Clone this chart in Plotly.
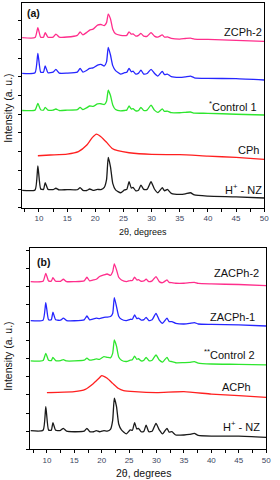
import plotly.graph_objects as go

# shared 2-theta grid for the crystalline patterns
X = [7, 9.3, 9.8, 10.3, 10.8, 11.1, 11.6, 12.5, 13.0, 13.6, 15.0, 16.8, 17.3, 17.8, 18.5,
     19.0, 19.6, 20.4, 21.0, 21.6, 22.0, 22.3, 22.7, 23.1, 23.6, 24.5, 25.2, 25.6, 26.0, 26.4,
     26.7, 27.2, 27.7, 28.1, 28.6, 29.2, 29.9, 30.5, 31.1, 31.9, 32.3, 32.8, 33.5, 35.0, 36.0,
     36.9, 37.6, 40.0, 45.0, 50.0]

# ---- panel (a) ----
A_HNZ = [0.93, 0.95, 2.23, 1.00, 0.98, 1.34, 0.98, 0.97, 1.04, 0.95, 0.97, 0.96, 1.07, 0.93, 0.92,
         1.00, 0.93, 0.98, 0.97, 1.09, 1.50, 2.69, 2.19, 1.30, 0.95, 0.80, 0.95, 0.98, 1.39, 1.05,
         1.09, 0.90, 0.95, 1.21, 0.98, 0.98, 1.39, 1.00, 0.80, 1.07, 0.90, 0.98, 0.77, 0.71, 0.74,
         0.80, 0.68, 0.62, 0.58, 0.52]
A_C1 = [5.20, 5.22, 5.58, 5.24, 5.22, 5.37, 5.22, 5.22, 5.28, 5.20, 5.22, 5.25, 5.37, 5.25, 5.35,
        5.44, 5.42, 5.55, 5.56, 5.52, 5.70, 6.29, 6.00, 5.50, 5.25, 5.18, 5.20, 5.22, 5.44, 5.28,
        5.30, 5.18, 5.20, 5.37, 5.20, 5.22, 5.49, 5.22, 5.10, 5.28, 5.15, 5.17, 5.08, 5.08, 5.10,
        5.12, 5.06, 5.05, 5.00, 4.96]
A_ZCPH1 = [7.19, 7.22, 8.26, 7.25, 7.25, 7.58, 7.22, 7.25, 7.40, 7.20, 7.20, 7.25, 7.45, 7.25, 7.35,
           7.45, 7.48, 7.63, 7.67, 7.58, 7.80, 8.58, 8.17, 7.60, 7.33, 7.15, 7.22, 7.25, 7.45, 7.27,
           7.30, 7.15, 7.20, 7.36, 7.15, 7.18, 7.40, 7.19, 7.04, 7.29, 7.12, 7.15, 7.01, 6.97, 7.00,
           7.04, 6.95, 6.92, 6.90, 6.83]
A_ZCPH2 = [9.10, 9.10, 9.63, 9.12, 9.12, 9.36, 9.12, 9.12, 9.29, 9.13, 9.13, 9.22, 9.40, 9.25, 9.38,
           9.50, 9.55, 9.77, 9.80, 9.74, 9.90, 10.36, 10.10, 9.55, 9.30, 9.22, 9.20, 9.22, 9.41, 9.28,
           9.30, 9.18, 9.22, 9.32, 9.18, 9.17, 9.36, 9.18, 9.12, 9.24, 9.12, 9.14, 9.06, 9.02, 9.05,
           9.07, 9.02, 9.00, 8.95, 8.90]
A_CPH_X = [9.8, 12, 15, 17, 18.5, 19.5, 20.2, 21, 22, 23, 24, 26, 30, 35, 40, 45, 50]
A_CPH = [2.78, 2.82, 2.87, 3.00, 3.35, 3.76, 3.94, 3.80, 3.50, 3.17, 3.05, 2.94, 2.85, 2.84, 2.76, 2.69, 2.59]

# ---- panel (b) ----
B_HNZ = [1.03, 1.05, 2.36, 1.07, 1.05, 1.47, 1.05, 1.05, 1.16, 1.00, 0.97, 1.00, 1.16, 0.98, 0.97,
         1.03, 0.97, 1.03, 1.00, 1.10, 1.60, 2.82, 2.36, 1.40, 1.07, 0.85, 1.07, 1.05, 1.47, 1.12,
         1.16, 0.97, 1.00, 1.34, 0.97, 1.00, 1.43, 1.07, 0.85, 1.16, 0.95, 0.97, 0.79, 0.79, 0.82,
         0.88, 0.77, 0.73, 0.73, 0.66]
B_C2 = [4.88, 4.90, 5.30, 4.92, 4.90, 5.08, 4.90, 4.90, 4.95, 4.88, 4.88, 4.92, 5.03, 4.92, 4.95,
        4.99, 4.97, 5.12, 5.08, 5.05, 5.30, 6.04, 5.70, 5.10, 4.92, 4.85, 4.92, 4.95, 5.15, 4.97,
        5.00, 4.88, 4.92, 5.08, 4.90, 4.92, 5.21, 4.93, 4.82, 5.08, 4.88, 4.84, 4.78, 4.79, 4.80,
        4.84, 4.76, 4.71, 4.69, 4.66]
B_ZACPH1 = [7.11, 7.13, 8.10, 7.15, 7.15, 7.57, 7.15, 7.13, 7.24, 7.11, 7.10, 7.15, 7.36, 7.15, 7.20,
            7.24, 7.22, 7.29, 7.30, 7.33, 7.50, 8.38, 7.88, 7.35, 7.18, 7.11, 7.18, 7.18, 7.42, 7.22,
            7.24, 7.14, 7.16, 7.29, 7.11, 7.15, 7.51, 7.14, 6.96, 7.24, 7.05, 7.05, 6.96, 6.92, 6.95,
            7.00, 6.92, 6.90, 6.87, 6.81]
B_ZACPH2 = [9.26, 9.28, 9.72, 9.30, 9.28, 9.48, 9.28, 9.28, 9.39, 9.26, 9.26, 9.30, 9.50, 9.30, 9.35,
            9.39, 9.54, 9.63, 9.68, 9.60, 9.80, 10.24, 9.91, 9.50, 9.35, 9.26, 9.32, 9.32, 9.50, 9.35,
            9.37, 9.28, 9.30, 9.39, 9.26, 9.30, 9.54, 9.26, 9.20, 9.35, 9.22, 9.20, 9.17, 9.17, 9.20,
            9.22, 9.16, 9.13, 9.10, 9.04]
B_ACPH_X = [10, 12, 15, 17, 18.5, 19.5, 20, 21, 22, 23, 24, 26, 30, 35, 40, 45, 50]
B_ACPH = [3.13, 3.14, 3.18, 3.31, 3.64, 3.92, 4.07, 3.92, 3.64, 3.37, 3.24, 3.18, 3.13, 3.18, 3.05, 2.96, 2.87]

LABELS_A = ["ZCPh-2", "ZCPh-1", "<sup>*</sup>Control 1", "CPh", "H<sup>+</sup> - NZ"]
LABELS_B = ["ZACPh-2", "ZACPh-1", "<sup>**</sup>Control 2", "ACPh", "H<sup>+</sup> - NZ"]
X_TITLE = "2θ, degrees"
Y_TITLE = "Intensity (a. u.)"

PINK, BLUE, GREEN, RED, BLACK = "#ff2e8c", "#2626ff", "#2ee62e", "#ff2020", "#1a1a1a"
FONT = "Liberation Sans, Arial, sans-serif"

fig = go.Figure()

def add(x, y, color, xa, ya, spline=True):
    fig.add_trace(go.Scatter(x=x, y=y, mode="lines", xaxis=xa, yaxis=ya,
                             line=dict(color=color, width=1.3,
                                       shape="spline" if spline else "linear", smoothing=0.5),
                             showlegend=False, hoverinfo="skip"))

add(X, A_ZCPH2, PINK, "x", "y")
add(X, A_ZCPH1, BLUE, "x", "y")
add(X, A_C1, GREEN, "x", "y")
add(A_CPH_X, A_CPH, RED, "x", "y")
add(X, A_HNZ, BLACK, "x", "y")

add(X, B_ZACPH2, PINK, "x2", "y2")
add(X, B_ZACPH1, BLUE, "x2", "y2")
add(X, B_C2, GREEN, "x2", "y2")
add(B_ACPH_X, B_ACPH, RED, "x2", "y2")
add(X, B_HNZ, BLACK, "x2", "y2")

W, H = 280, 480

def xax(domain, anchor):
    return dict(domain=domain, anchor=anchor, range=[7, 50], tick0=0, dtick=5,
                ticks="outside", ticklen=3, tickwidth=1, tickcolor="black",
                tickfont=dict(family=FONT, size=8, color="#3c4660"),
                showline=True, linecolor="black", linewidth=1.3, mirror=True,
                showgrid=False, zeroline=False,
                minor=dict(dtick=2.5, tick0=0, ticks="outside", ticklen=3, tickcolor="black"))

def yax(domain, anchor, top):
    return dict(domain=domain, anchor=anchor, range=[0, top], tick0=0, dtick=1,
                ticks="outside", ticklen=3, tickwidth=1, tickcolor="black",
                showticklabels=False,
                showline=True, linecolor="black", linewidth=1.3, mirror=True,
                showgrid=False, zeroline=False)

fig.update_layout(
    width=W, height=H, margin=dict(l=0, r=0, t=0, b=0),
    paper_bgcolor="white", plot_bgcolor="white",
    xaxis=xax([22.5 / W, 269 / W], "y"),
    yaxis=yax([1 - 207.7 / H, 1 - 3 / H], "x", 10.95),
    xaxis2=xax([31 / W, 271 / W], "y2"),
    yaxis2=yax([1 - 449.3 / H, 1 - 248.3 / H], "x2", 11.1),
)

lab_font = dict(family=FONT, size=11, color="#111111")
pos_a = [(49.9, 9.38), (50.1, 7.31), (49.1, 5.42), (49.4, 3.09), (50.0, 0.98)]
pos_b = [(49.1, 9.72), (48.4, 7.29), (48.3, 5.27), (47.6, 3.46), (49.3, 1.29)]
for t, (px, py) in zip(LABELS_A, pos_a):
    fig.add_annotation(x=px, y=py, xref="x", yref="y", text=t, showarrow=False,
                       xanchor="right", yanchor="middle", font=lab_font)
for t, (px, py) in zip(LABELS_B, pos_b):
    fig.add_annotation(x=px, y=py, xref="x2", yref="y2", text=t, showarrow=False,
                       xanchor="right", yanchor="middle", font=lab_font)

fig.add_annotation(x=25 / W, y=1 - 12.7 / H, xref="paper", yref="paper", text="<b>(a)</b>",
                   showarrow=False, xanchor="left", yanchor="middle",
                   font=dict(family=FONT, size=10.5, color="#111111"))
fig.add_annotation(x=36 / W, y=1 - 262.3 / H, xref="paper", yref="paper", text="<b>(b)</b>",
                   showarrow=False, xanchor="left", yanchor="middle",
                   font=dict(family=FONT, size=10.5, color="#111111"))

for yy, fs in ((231.7, 9), (473, 10.5)):
    fig.add_annotation(x=146 / W, y=1 - yy / H, xref="paper", yref="paper", text=X_TITLE,
                       showarrow=False, xanchor="center", yanchor="middle",
                       font=dict(family=FONT, size=fs, color="#111111"))
for yy in (108, 356):
    fig.add_annotation(x=8 / W, y=1 - yy / H, xref="paper", yref="paper", text=Y_TITLE,
                       showarrow=False, xanchor="center", yanchor="middle", textangle=-90,
                       font=dict(family=FONT, size=10.5, color="#111111"))

fig.write_html("out.html", config={"displayModeBar": False},
               post_script="document.body.style.margin='0';document.body.style.overflow='hidden';")
